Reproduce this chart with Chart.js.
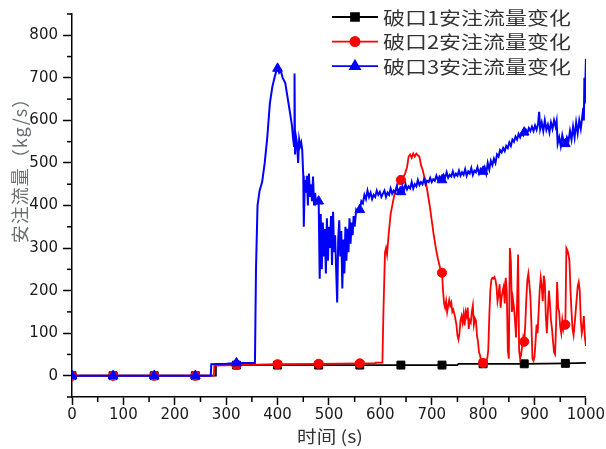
<!DOCTYPE html>
<html>
<head>
<meta charset="utf-8">
<script src="https://cdn.jsdelivr.net/npm/chart.js@4.4.1/dist/chart.umd.min.js"></script>
<style>
  html, body { margin: 0; padding: 0; background: #fff; }
  #wrap { width: 606px; height: 449px; position: relative; }
</style>
</head>
<body>
<div id="wrap"><canvas id="c" width="606" height="449"></canvas></div>
<script>
// Series labels, axis titles, tick values and marker positions (s)
const seriesNames = ['破口1安注流量变化', '破口2安注流量变化', '破口3安注流量变化'];
const markerTimes = [0, 80, 160, 240, 320, 400, 480, 560, 640, 720, 800, 880, 960];
const xTickValues = [0, 100, 200, 300, 400, 500, 600, 700, 800, 900, 1000];
const yTickValues = [0, 100, 200, 300, 400, 500, 600, 700, 800];
const xTitle = '时间 (s)';
const yTitle = '安注流量（kg/s）';

// Break 1: time (s) / flow (kg/s)
const break1Time = [0, 80, 160, 240, 279, 280, 320, 400, 480, 560, 640, 720, 750, 752, 800, 880, 960, 1000];
const break1Flow = [0, 0, 0, 0, 0, 25, 25, 25, 25, 25, 25, 25, 25, 28, 28, 28, 29, 30];

// Break 2: time (s) / flow (kg/s)
const break2Time = [
  0, 80, 160, 240, 276, 277, 320, 400, 480, 560,
  590, 591, 604, 606, 609, 611, 613, 616, 620, 624,
  628, 632, 636, 640, 644, 648, 652, 655, 658, 661,
  664, 667, 670, 673, 676, 679, 682, 685, 688, 692,
  696, 700, 704, 708, 712, 716, 720, 722, 724, 726,
  728, 730, 732, 734, 736, 738, 740, 742, 745, 748,
  750, 752, 754, 756, 758, 760, 762, 764, 766, 768,
  770, 772, 774, 776, 778, 780, 782, 784, 786, 788,
  790, 792, 794, 796, 798, 800, 802, 805, 808, 810,
  812, 814, 816, 818, 820, 822, 824, 826, 828, 830,
  832, 834, 836, 838, 840, 842, 844, 846, 848, 850,
  852, 854, 856, 858, 860, 862, 864, 866, 868, 870,
  872, 874, 876, 878, 880, 882, 884, 886, 888, 890,
  892, 894, 896, 898, 900, 902, 904, 906, 908, 910,
  912, 914, 916, 918, 920, 922, 924, 926, 928, 930,
  932, 934, 936, 938, 940, 942, 944, 946, 948, 950,
  952, 954, 956, 958, 960, 962, 964, 966, 968, 970,
  972, 974, 976, 978, 980, 982, 984, 986, 988, 990,
  992, 994, 996, 998, 1000
];
const break2Flow = [
  0, 0, 0, 0, 0, 24, 25, 27, 28, 29,
  29, 31, 31, 150, 290, 300, 285, 330, 380, 405,
  430, 445, 455, 460, 465, 475, 490, 515, 520, 512,
  522, 515, 522, 518, 515, 495, 485, 470, 460, 430,
  400, 365, 330, 300, 275, 255, 242, 200, 170, 160,
  175, 150, 165, 178, 165, 172, 150, 155, 140, 120,
  95, 85, 100, 130, 140, 125, 145, 118, 150, 140,
  160, 110, 130, 125, 150, 165, 120, 135, 130, 95,
  80, 55, 48, 35, 32, 30, 30, 35, 40, 60,
  140, 200, 225, 230, 228, 232, 225, 210, 175, 190,
  215, 160, 185, 200, 210, 170, 230, 200, 60, 40,
  300, 270, 150, 180, 160, 130, 90, 170, 285, 60,
  40, 50, 70, 90, 80, 120, 180, 225, 240, 215,
  185, 120, 40, 35, 45, 80, 120, 100, 150, 200,
  230, 210, 175, 235, 220, 140, 100, 150, 200, 170,
  130, 110, 80, 55, 50, 120, 220, 160, 150, 115,
  100, 130, 110, 125, 120, 300, 295, 285, 270, 200,
  150, 110, 95, 120, 150, 180, 210, 220, 200, 130,
  100, 115, 140, 90, 70
];

// Break 3: time (s) / flow (kg/s)
const break3Time = [
  0, 80, 160, 240, 270, 271, 300, 320, 340, 356,
  358, 361, 365, 370, 375, 380, 385, 390, 395, 398,
  400, 403, 406, 410, 415, 420, 425, 428, 430, 432,
  433, 434, 436, 438, 440, 442, 444, 446, 448, 450,
  451, 453, 455, 457, 459, 461, 463, 465, 467, 469,
  471, 473, 475, 478, 480, 482, 484, 486, 488, 490,
  492, 494, 496, 498, 500, 502, 504, 506, 508, 510,
  512, 514, 516, 518, 520, 522, 524, 526, 528, 530,
  532, 534, 536, 538, 540, 542, 544, 546, 548, 550,
  553, 556, 560, 563, 566, 569, 572, 575, 578, 581,
  584, 587, 590, 593, 596, 599, 602, 605, 608, 611,
  614, 617, 620, 623, 626, 629, 632, 635, 638, 640,
  643, 646, 649, 652, 655, 658, 661, 664, 667, 670,
  673, 676, 679, 682, 685, 688, 691, 694, 697, 700,
  703, 706, 709, 712, 715, 718, 720, 723, 726, 729,
  732, 735, 738, 741, 744, 747, 750, 753, 756, 759,
  762, 765, 768, 771, 774, 777, 780, 783, 786, 789,
  792, 795, 798, 800, 803, 806, 809, 812, 815, 818,
  821, 824, 827, 830, 833, 836, 839, 842, 845, 848,
  851, 854, 857, 860, 863, 866, 869, 872, 875, 878,
  880, 883, 886, 889, 892, 895, 898, 901, 904, 907,
  909, 911, 914, 917, 920, 923, 926, 929, 932, 935,
  938, 941, 943, 945, 948, 951, 954, 957, 960, 963,
  966, 969, 972, 975, 978, 981, 984, 987, 990, 993,
  995, 996, 997, 998, 1000
];
const break3Flow = [
  0, 0, 0, 0, 0, 27, 28, 30, 30, 30,
  250, 400, 435, 455, 500, 560, 640, 680, 705, 718,
  722, 712, 718, 700, 688, 650, 612, 588, 560, 540,
  710, 520, 560, 545, 500, 555, 540, 548, 530, 470,
  350, 460, 430, 470, 400, 475, 420, 450, 410, 468,
  400, 430, 405, 412, 410, 228, 380, 250, 360, 280,
  345, 240, 370, 270, 350, 300, 375, 260, 385, 290,
  330, 250, 172, 320, 365, 280, 340, 205, 320, 240,
  350, 270, 345, 290, 370, 310, 360, 330, 375, 350,
  390, 385, 390, 410, 405, 425, 415, 435, 420, 430,
  415, 425, 420, 435, 425, 432, 420, 428, 435, 420,
  430, 425, 440, 428, 435, 430, 445, 432, 440, 432,
  445, 435, 450, 438, 445, 440, 455, 440, 450, 445,
  460, 448, 455, 450, 462, 450, 458, 455, 465, 455,
  462, 458, 470, 460, 468, 462, 460, 472, 465, 478,
  465, 472, 468, 480, 468, 475, 470, 482, 470, 478,
  472, 485, 470, 480, 475, 488, 472, 482, 478, 490,
  475, 485, 478, 480, 490, 475, 500, 485, 505, 495,
  510, 500, 520, 515, 530, 525, 535, 528, 540, 535,
  548, 540, 555, 550, 562, 555, 568, 560, 570, 565,
  572, 578, 570, 582, 575, 585, 575, 588, 578, 592,
  620, 580, 595, 575, 600, 578, 590, 572, 595, 580,
  600, 585, 598, 545, 560, 540, 565, 548, 545, 560,
  550, 575, 555, 585, 560, 595, 570, 600, 580, 610,
  630, 600, 700, 640, 745
];

const markerSet = new Set(markerTimes);
const toPoints = (T, V) => T.map((t, i) => ({ x: t, y: V[i] }));
const markerRadius = r => c => (c.raw && markerSet.has(c.raw.x)) ? r : 0;

const colors = ['#000000', '#ff0000', '#0000ff'];
const styles = ['rect', 'circle', 'triangle'];
const radii = [5.6, 4.6, 5.6];
const widths = [1.8, 1.8, 2];
const tickFont = { family: 'DejaVu Sans', size: 15 };

function makeDataset(i, T, V, order) {
  return {
    label: seriesNames[i],
    data: toPoints(T, V),
    borderColor: colors[i],
    backgroundColor: colors[i],
    pointBackgroundColor: colors[i],
    pointBorderColor: colors[i],
    pointBorderWidth: 1,
    pointStyle: styles[i],
    pointRadius: markerRadius(radii[i]),
    pointHoverRadius: 0,
    borderWidth: widths[i],
    tension: 0,
    order: order
  };
}

// Minor ticks, legend and axis titles
const decor = {
  id: 'decor',
  afterDraw(chart) {
    const { ctx, scales: { x, y } } = chart;
    ctx.save();
    ctx.strokeStyle = '#000';
    ctx.lineWidth = 1.5;
    for (let v = 50; v < x.max; v += 100) {
      const px = x.getPixelForValue(v);
      ctx.beginPath(); ctx.moveTo(px, x.top); ctx.lineTo(px, x.top + 5); ctx.stroke();
    }
    for (let v = y.min; v <= y.max; v += 100) {
      const py = y.getPixelForValue(v);
      ctx.beginPath(); ctx.moveTo(y.right, py); ctx.lineTo(y.right - 5, py); ctx.stroke();
    }

    // legend: line with marker, then label
    chart.data.datasets.forEach((ds, i) => {
      const ry = 17 + i * 24.6;
      ctx.strokeStyle = ds.borderColor;
      ctx.lineWidth = 1.8;
      ctx.beginPath(); ctx.moveTo(332, ry); ctx.lineTo(378, ry); ctx.stroke();
      ctx.fillStyle = ds.borderColor;
      Chart.helpers.drawPoint(ctx, { pointStyle: ds.pointStyle, radius: radii[i], rotation: 0, borderWidth: 1 }, 355, ry);
      ctx.save();
      ctx.translate(383, ry + 1);
      ctx.scale(1.22, 1);
      ctx.fillStyle = '#333';
      ctx.font = '18px "Noto Sans CJK SC"';
      ctx.textBaseline = 'middle';
      ctx.textAlign = 'left';
      ctx.fillText(ds.label, 0, 0);
      ctx.restore();
    });

    // x title
    ctx.save();
    ctx.translate(330, 437);
    ctx.scale(1.15, 1);
    ctx.fillStyle = '#333';
    ctx.font = '17px "Noto Sans CJK SC"';
    ctx.textAlign = 'center';
    ctx.textBaseline = 'middle';
    ctx.fillText(xTitle, 0, 0);
    ctx.restore();

    // y title
    ctx.save();
    ctx.translate(20, 166);
    ctx.rotate(-Math.PI / 2);
    ctx.fillStyle = '#66706e';
    ctx.font = '18px "Noto Sans CJK SC"';
    ctx.letterSpacing = '1px';
    ctx.textAlign = 'center';
    ctx.textBaseline = 'middle';
    ctx.fillText(yTitle, 0, 0);
    ctx.restore();

    ctx.restore();
  }
};

new Chart(document.getElementById('c'), {
  type: 'line',
  data: {
    datasets: [
      makeDataset(0, break1Time, break1Flow, 3),
      makeDataset(1, break2Time, break2Flow, 2),
      makeDataset(2, break3Time, break3Flow, 1)
    ]
  },
  options: {
    responsive: false,
    animation: false,
    devicePixelRatio: 1,
    events: [],
    layout: { padding: { left: 0, top: 12, right: 18, bottom: 0 } },
    plugins: { legend: { display: false }, tooltip: { enabled: false } },
    scales: {
      x: {
        type: 'linear',
        min: 0, max: 1000,
        afterBuildTicks: s => { s.ticks = xTickValues.map(v => ({ value: v })); },
        ticks: { color: '#1a1a1a', padding: 1, maxRotation: 0, autoSkip: false, font: tickFont, callback: v => String(v) },
        grid: { drawOnChartArea: false, drawTicks: true, tickLength: 8, tickColor: '#000', tickWidth: 1.5 },
        border: { display: true, color: '#000', width: 1.5 },
        afterFit: s => { s.height = 52; }
      },
      y: {
        type: 'linear',
        min: -50, max: 850,
        afterBuildTicks: s => { s.ticks = yTickValues.map(v => ({ value: v })); },
        ticks: { color: '#1a1a1a', padding: 5, autoSkip: false, font: tickFont, callback: v => String(v) },
        grid: { drawOnChartArea: false, drawTicks: true, tickLength: 9, tickColor: '#000', tickWidth: 1.5 },
        border: { display: true, color: '#000', width: 1.5 },
        afterFit: s => { s.width = 72; }
      }
    }
  },
  plugins: [decor]
});
</script>
</body>
</html>
